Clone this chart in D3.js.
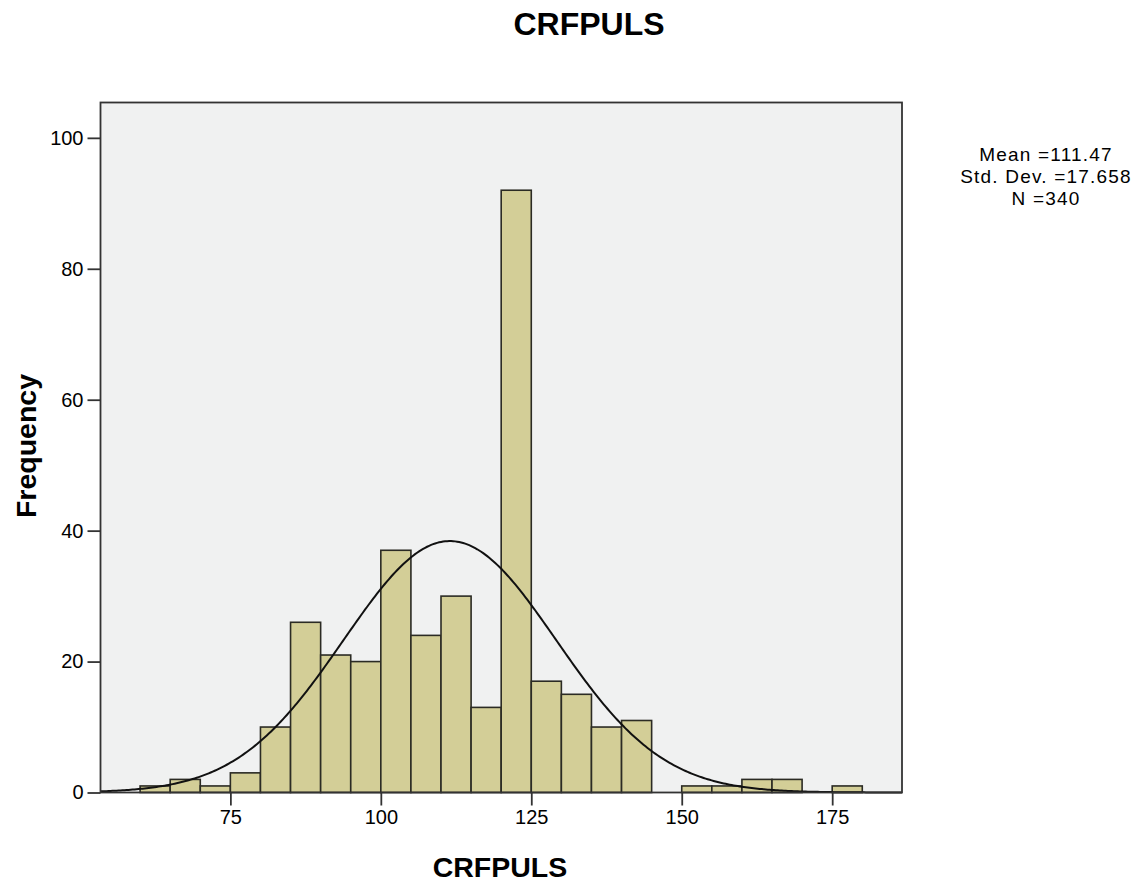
<!DOCTYPE html>
<html>
<head>
<meta charset="utf-8">
<script src="https://cdn.jsdelivr.net/npm/d3@7"></script>
<style>
  body { margin: 0; background: #ffffff; }
  svg { display: block; }
  text { font-family: "Liberation Sans", Arial, sans-serif; fill: #000; }
</style>
</head>
<body>
<script>
// ---- data ----
const binStarts = [60,65,70,75,80,85,90,95,100,105,110,115,120,125,130,135,140,145,150,155,160,165,170,175];
const binWidth = 5;
const frequencies = [1,2,1,3,10,26,21,20,37,24,30,13,92,17,15,10,11,0,1,1,2,2,0,1];
const xTicks = [75,100,125,150,175];
const yTicks = [0,20,40,60,80,100];
const statLines = ["Mean =111.47", "Std. Dev. =17.658", "N =340"];
const mean = 111.47, sd = 17.658, n = 340;
const chartTitle = "CRFPULS";
const xTitle = "CRFPULS";
const yTitle = "Frequency";

// ---- layout ----
const W = 1139, H = 882;
const plot = { left: 100.5, right: 902, top: 102.5, bottom: 792.5 };

const svg = d3.select("body").append("svg").attr("width", W).attr("height", H);

const x = d3.scaleLinear().domain([53.42, 186.6]).range([plot.left, plot.right]);
const y = d3.scaleLinear().domain([0, 105.4]).range([plot.bottom, plot.top]);

// plot background
svg.append("rect")
  .attr("x", plot.left).attr("y", plot.top)
  .attr("width", plot.right - plot.left).attr("height", plot.bottom - plot.top)
  .attr("fill", "#f0f1f1");

// bars
const bins = binStarts.map((s, i) => ({ x0: s, x1: s + binWidth, f: frequencies[i] }));
svg.append("g").selectAll("rect").data(bins.filter(d => d.f > 0)).join("rect")
  .attr("x", d => x(d.x0))
  .attr("y", d => y(d.f))
  .attr("width", d => x(d.x1) - x(d.x0))
  .attr("height", d => y(0) - y(d.f))
  .attr("fill", "#d3ce97")
  .attr("stroke", "#2b2b24")
  .attr("stroke-width", 1.6);

// normal curve
const dom = x.domain();
const pts = d3.range(0, 401).map(i => {
  const v = dom[0] + (dom[1] - dom[0]) * i / 400;
  const dens = n * binWidth / (sd * Math.sqrt(2 * Math.PI)) * Math.exp(-0.5 * Math.pow((v - mean) / sd, 2));
  return [v, dens];
});
svg.append("path")
  .datum(pts)
  .attr("d", d3.line().x(d => x(d[0])).y(d => y(d[1])).curve(d3.curveLinear))
  .attr("fill", "none")
  .attr("stroke", "#111")
  .attr("stroke-width", 2);

// frame
svg.append("rect")
  .attr("x", plot.left).attr("y", plot.top)
  .attr("width", plot.right - plot.left).attr("height", plot.bottom - plot.top)
  .attr("fill", "none").attr("stroke", "#333").attr("stroke-width", 1.8);

// axes
const xAxis = d3.axisBottom(x).tickValues(xTicks).tickSize(13).tickPadding(4).tickFormat(d3.format("d"));
const gx = svg.append("g").attr("transform", `translate(0,${plot.bottom})`).call(xAxis);
gx.select(".domain").remove();
gx.selectAll(".tick line").attr("stroke", "#333").attr("stroke-width", 1.8);
gx.selectAll(".tick text").attr("font-size", 20).attr("font-family", "Liberation Sans, Arial, sans-serif").attr("fill", "#222");

const yAxis = d3.axisLeft(y).tickValues(yTicks).tickSize(13).tickPadding(4).tickFormat(d3.format("d"));
const gy = svg.append("g").attr("transform", `translate(${plot.left},0)`).call(yAxis);
gy.select(".domain").remove();
gy.selectAll(".tick line").attr("stroke", "#333").attr("stroke-width", 1.8);
gy.selectAll(".tick text").attr("font-size", 20).attr("font-family", "Liberation Sans, Arial, sans-serif").attr("fill", "#222");

// titles
svg.append("text").attr("x", 589).attr("y", 35).attr("text-anchor", "middle")
  .attr("font-size", 32).attr("font-weight", "bold").text(chartTitle);
svg.append("text").attr("x", 500).attr("y", 877).attr("text-anchor", "middle")
  .attr("font-size", 28.5).attr("font-weight", "bold").text(xTitle);
svg.append("text").attr("transform", "translate(36,446) rotate(-90)").attr("text-anchor", "middle")
  .attr("font-size", 28.5).attr("font-weight", "bold").text(yTitle);

// stats
svg.append("g").selectAll("text").data(statLines).join("text")
  .attr("x", 1046).attr("y", (d, i) => 161 + i * 22)
  .attr("text-anchor", "middle").attr("font-size", 19).attr("letter-spacing", 1.2).attr("fill", "#111")
  .text(d => d);
</script>
</body>
</html>
